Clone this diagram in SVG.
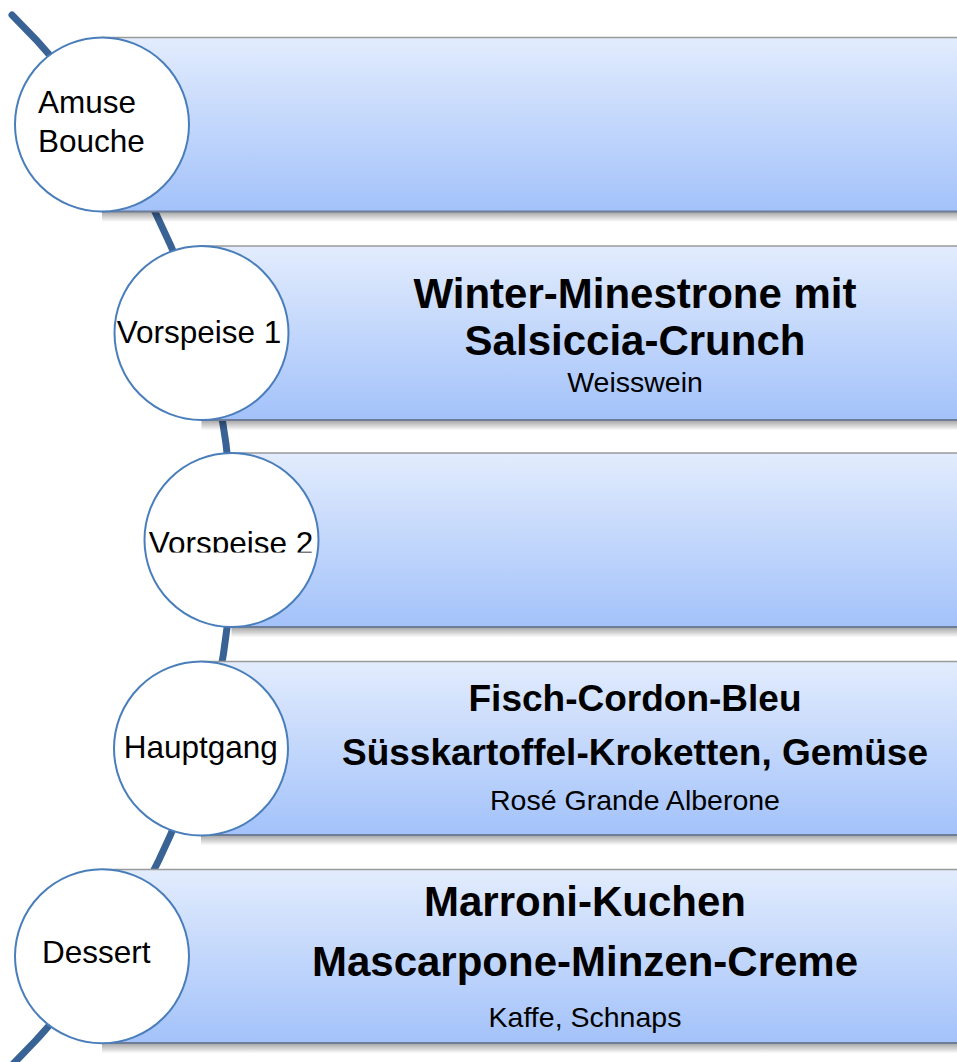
<svg xmlns="http://www.w3.org/2000/svg" width="957" height="1062" viewBox="0 0 957 1062">
<defs>
<linearGradient id="bar" x1="0" y1="0" x2="0" y2="1">
<stop offset="0" stop-color="#e2ecfd"/>
<stop offset="1" stop-color="#a3c2fa"/>
</linearGradient>
<linearGradient id="shadow" x1="0" y1="0" x2="0" y2="1">
<stop offset="0" stop-color="#000" stop-opacity="0.35"/>
<stop offset="1" stop-color="#000" stop-opacity="0"/>
</linearGradient>
<clipPath id="clipV2"><rect x="140" y="450" width="190" height="102.5"/></clipPath>
</defs>
<style>
.bar{fill:url(#bar)}
.shadow{fill:url(#shadow)}
.topline{stroke:#9a9a9a;stroke-width:1.5}
.botline{stroke:#6e7d97;stroke-width:2}
.circ{fill:#fff;stroke:#4a7ebb;stroke-width:2}
.lbl{font-family:"Liberation Sans",Arial,sans-serif;font-size:31.5px;fill:#000}
.main{font-family:"Liberation Sans",Arial,sans-serif;font-weight:bold;font-size:42px;fill:#000;text-anchor:middle}
.main2{font-family:"Liberation Sans",Arial,sans-serif;font-weight:bold;font-size:37px;fill:#000;text-anchor:middle}
.sub{font-family:"Liberation Sans",Arial,sans-serif;font-size:28.5px;fill:#000;text-anchor:middle}
.arc{fill:none;stroke:#3a6395;stroke-width:7;stroke-linecap:round}
</style>
<g id="connectors">
<path class="arc" d="M 12 15 A 736 736 0 0 1 12 1065"/>
</g>
<g id="node-amuse">
<rect class="shadow" x="102" y="212" width="855" height="10"/>
<rect class="bar" x="102" y="37.5" width="860" height="174"/>
<line class="topline" x1="102" y1="37.5" x2="957" y2="37.5"/>
<line class="botline" x1="102" y1="211.5" x2="957" y2="211.5"/>
<circle class="circ" cx="102" cy="124.5" r="87"/>
<text class="lbl" x="38" y="113">Amuse</text>
<text class="lbl" x="38" y="151.5">Bouche</text>
</g>
<g id="node-vorspeise1">
<rect class="shadow" x="201.5" y="420.5" width="755.5" height="10"/>
<rect class="bar" x="201.5" y="246" width="760" height="174"/>
<line class="topline" x1="201.5" y1="246" x2="957" y2="246"/>
<line class="botline" x1="201.5" y1="420" x2="957" y2="420"/>
<circle class="circ" cx="201.5" cy="333" r="87"/>
<text class="lbl" x="199" y="343.3" text-anchor="middle">Vorspeise 1</text>
<text class="main" x="635" y="308">Winter-Minestrone mit</text>
<text class="main" x="635" y="355">Salsiccia-Crunch</text>
<text class="sub" x="635" y="392">Weisswein</text>
</g>
<g id="node-vorspeise2">
<rect class="shadow" x="231.5" y="627.5" width="725.5" height="10"/>
<rect class="bar" x="231.5" y="453" width="730" height="174"/>
<line class="topline" x1="231.5" y1="453" x2="957" y2="453"/>
<line class="botline" x1="231.5" y1="627" x2="957" y2="627"/>
<circle class="circ" cx="231.5" cy="540" r="87"/>
<text class="lbl" x="231" y="554.2" text-anchor="middle" clip-path="url(#clipV2)">Vorspeise 2</text>
</g>
<g id="node-hauptgang">
<rect class="shadow" x="201" y="835.5" width="756" height="10"/>
<rect class="bar" x="201" y="661.5" width="760" height="174"/>
<line class="topline" x1="201" y1="661.5" x2="957" y2="661.5"/>
<line class="botline" x1="201" y1="835" x2="957" y2="835"/>
<circle class="circ" cx="201" cy="748.5" r="87"/>
<text class="lbl" x="200.8" y="758.3" text-anchor="middle">Hauptgang</text>
<text class="main2" x="635" y="711">Fisch-Cordon-Bleu</text>
<text class="main2" x="635" y="765">Süsskartoffel-Kroketten, Gemüse</text>
<text class="sub" x="635" y="810">Rosé Grande Alberone</text>
</g>
<g id="node-dessert">
<rect class="shadow" x="102" y="1043.5" width="855" height="10"/>
<rect class="bar" x="102" y="869.5" width="860" height="174"/>
<line class="topline" x1="102" y1="869.5" x2="957" y2="869.5"/>
<line class="botline" x1="102" y1="1043" x2="957" y2="1043"/>
<circle class="circ" cx="102" cy="956.3" r="87"/>
<text class="lbl" x="42" y="963.3">Dessert</text>
<text class="main" x="585" y="916">Marroni-Kuchen</text>
<text class="main" x="585" y="976">Mascarpone-Minzen-Creme</text>
<text class="sub" x="585" y="1026.5">Kaffe, Schnaps</text>
</g>
</svg>
